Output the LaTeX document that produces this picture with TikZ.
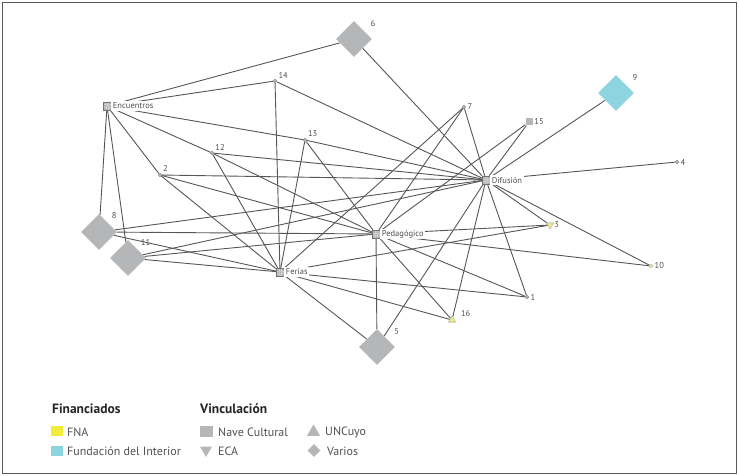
\documentclass[tikz,border=0pt]{standalone}
\usepackage{fontspec}
\setmainfont{PT Sans}
\usetikzlibrary{shapes.geometric,backgrounds}
\definecolor{varios}{HTML}{B5B6B8}
\definecolor{fdi}{HTML}{8DD4E0}
\definecolor{fna}{HTML}{F1EC3A}
\definecolor{fnapalido}{HTML}{EEEA8C}
\definecolor{trazo}{HTML}{555658}
\definecolor{rotulo}{HTML}{4F5052}
\tikzset{
  lbl/.style={font=\fontsize{8.5}{10}\selectfont, text=rotulo, inner sep=1.5pt, fill=white},
  num/.style={font=\fontsize{8.5}{10}\selectfont, text=rotulo, inner sep=1.5pt},
  leyenda/.style={font=\fontsize{12}{14}\selectfont, text=rotulo, inner sep=0pt, anchor=west},
  titulo/.style={font=\fontsize{13.5}{15}\selectfont\bfseries, text=black!85, inner sep=0pt, anchor=west},
  hub/.style={draw=gray!90!black, fill=varios, minimum size=8pt, inner sep=0pt, line width=0.4pt,
    path picture={\foreach \t in {-1.35,1.35} {
      \draw[gray!40, line width=0.3pt] ([xshift=\t pt]path picture bounding box.north) -- ([xshift=\t pt]path picture bounding box.south);
      \draw[gray!40, line width=0.3pt] ([yshift=\t pt]path picture bounding box.west) -- ([yshift=\t pt]path picture bounding box.east);}}},
  punto/.style={circle, fill=varios, draw=gray, line width=0.3pt, minimum size=3.6pt, inner sep=0pt},
  rombo/.style={diamond, fill=varios, minimum size=36pt, inner sep=0pt, aspect=1},
  cuadro/.style={fill=varios, minimum size=7pt, inner sep=0pt},
  triarriba/.style={regular polygon, regular polygon sides=3, fill=fnapalido, draw=gray!80, line width=0.3pt, minimum size=8.5pt, inner sep=0pt},
  triabajo/.style={triarriba, shape border rotate=180},
  enlace/.style={draw=trazo, line width=0.9pt},
  marco/.style={draw=gray!70!black, line width=1.2pt}
}
\begin{document}
\begin{tikzpicture}[x=1pt,y=-1pt]
    \useasboundingbox (0,0) rectangle (739,476);
    \draw[marco] (2.5,2.5) rectangle (736.5,473.5);

    % actividades
    \node[hub, label={[lbl]0:Encuentros}] (enc) at (107,106) {};
    \node[hub, label={[lbl]0:Difusión}] (dif) at (486,180) {};
    \node[hub, label={[lbl]0:Pedagógico}] (ped) at (376,234) {};
    \node[hub, label={[lbl]0:Ferias}] (fer) at (280,272) {};

    % organizaciones
    \node[punto, label={[num]0:1}] (n1) at (527,297) {};
    \node[punto, label={[num]45:2}] (n2) at (160,175) {};
    \node[triabajo, label={[num]0:3}] (n3) at (550,225) {};
    \node[punto, label={[num]0:4}] (n4) at (677,162) {};
    \node[rombo, label={[num, label distance=6pt]35:5}] (n5) at (377,347) {};
    \node[rombo, label={[num, label distance=5pt]35:6}] (n6) at (354,39) {};
    \node[punto, label={[num]0:7}] (n7) at (464,107) {};
    \node[rombo, label={[num, label distance=3pt]45:8}] (n8) at (99,232) {};
    \node[rombo, fill=fdi, label={[num, label distance=5pt]35:9}] (n9) at (616,93) {};
    \node[punto, fill=fnapalido, draw=gray!70, label={[num]0:10}] (n10) at (651,266) {};
    \node[rombo, label={[num, label distance=3pt]45:11}] (n11) at (128,258) {};
    \node[punto, label={[num]30:12}] (n12) at (212,153) {};
    \node[punto, label={[num]45:13}] (n13) at (305,140) {};
    \node[punto, label={[num]20:14}] (n14) at (275,81) {};
    \node[cuadro, label={[num]0:15}] (n15) at (529,122) {};
    \node[triarriba, label={[num, label distance=5pt]10:16}] (n16) at (452,320) {};

    \begin{scope}[on background layer]
        \foreach \o in {2,6,8,11,12,13,14}
            \draw[enlace] (enc) -- (n\o);
        \foreach \o in {1,...,16}
            \draw[enlace] (dif) -- (n\o);
        \foreach \o in {1,2,3,5,7,8,10,11,12,13,15,16}
            \draw[enlace] (ped) -- (n\o);
        \foreach \o in {1,2,3,5,7,8,11,12,13,14,16}
            \draw[enlace] (fer) -- (n\o);
    \end{scope}

    % leyenda
    \node[titulo] (fin) at (52,409) {Financiados};
    \node[fill=fna, minimum width=12pt, minimum height=10pt, inner sep=0pt] (cfna) at (57,431) {};
    \node[leyenda] (tfna) at (67,432) {FNA};
    \node[fill=fdi, minimum width=12pt, minimum height=10pt, inner sep=0pt] (cfdi) at (57,451) {};
    \node[leyenda] (tfdi) at (67,451) {Fundación del Interior};

    \node[titulo] (vin) at (200,409) {Vinculación};
    \node[fill=varios, minimum width=13pt, minimum height=11pt, inner sep=0pt] (cnave) at (206.5,431) {};
    \node[leyenda] (tnave) at (218,432) {Nave Cultural};
    \node[triabajo, fill=varios, draw=none, minimum size=14pt] (ceca) at (206,450) {};
    \node[leyenda] (teca) at (218,451) {ECA};
    \node[triarriba, fill=varios, draw=none, minimum size=15pt] (cunc) at (313.5,432) {};
    \node[leyenda] (tunc) at (325,432) {UNCuyo};
    \node[rombo, minimum size=13pt] (cvar) at (314,450.5) {};
    \node[leyenda] (tvar) at (327,451) {Varios};
\end{tikzpicture}
\end{document}
